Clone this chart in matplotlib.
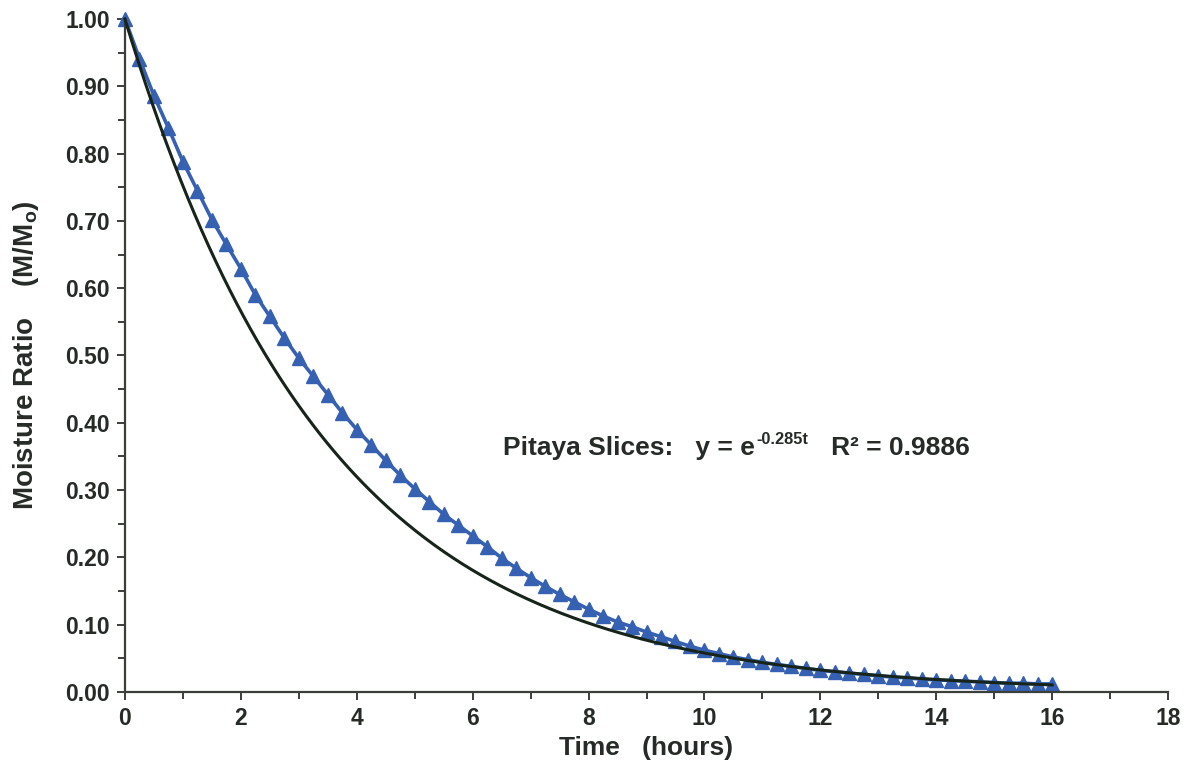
import numpy as np
import matplotlib
matplotlib.use("Agg")
import matplotlib.pyplot as plt
from matplotlib.ticker import MultipleLocator, FormatStrFormatter
from matplotlib.transforms import offset_copy

plt.rcParams['font.family'] = ['Liberation Sans', 'DejaVu Sans']
plt.rcParams['font.weight'] = 'bold'
plt.rcParams['mathtext.fontset'] = 'custom'
plt.rcParams['mathtext.rm'] = 'Liberation Sans:bold'
plt.rcParams['mathtext.it'] = 'Liberation Sans:bold'
plt.rcParams['mathtext.bf'] = 'Liberation Sans:bold'

# Measured moisture ratio of pitaya slices, sampled every 0.25 h
time_h = [i * 0.25 for i in range(65)]
moisture_ratio = [
    1.000, 0.941, 0.886, 0.838, 0.788, 0.745, 0.702, 0.665,
    0.629, 0.590, 0.558, 0.526, 0.496, 0.469, 0.442, 0.415,
    0.390, 0.367, 0.344, 0.322, 0.302, 0.283, 0.264, 0.248,
    0.232, 0.216, 0.199, 0.184, 0.170, 0.157, 0.145, 0.134,
    0.123, 0.113, 0.104, 0.097, 0.089, 0.082, 0.075, 0.068,
    0.062, 0.057, 0.052, 0.048, 0.044, 0.041, 0.038, 0.035,
    0.032, 0.030, 0.028, 0.026, 0.024, 0.022, 0.021, 0.019,
    0.018, 0.017, 0.016, 0.015, 0.014, 0.013, 0.013, 0.012,
    0.012,
]

# Fitted model y = exp(-k t)
k_fit = 0.285
r_squared = 0.9886
t_fit = np.linspace(0, 16, 400)
y_fit = np.exp(-k_fit * t_fit)

text_color = '#262b27'
blue = '#3661b2'
fit_color = '#16241a'

fig = plt.figure(figsize=(11.88, 7.63), dpi=100)
ax = fig.add_axes([0.1052, 0.0931, 0.8780, 0.8820])

ax.plot(time_h, moisture_ratio, color=blue, lw=2.6, marker='^',
        markersize=9.5, markerfacecolor=blue, markeredgecolor=blue,
        zorder=2, clip_on=False)
ax.plot(t_fit, y_fit, color=fit_color, lw=2.2, zorder=3, clip_on=False)

ax.set_xlim(0, 18)
ax.set_ylim(0, 1.0)
ax.xaxis.set_major_locator(MultipleLocator(2))
ax.xaxis.set_minor_locator(MultipleLocator(1))
ax.yaxis.set_major_locator(MultipleLocator(0.1))
ax.yaxis.set_minor_locator(MultipleLocator(0.05))
ax.yaxis.set_major_formatter(FormatStrFormatter('%.2f'))

for side in ('top', 'right'):
    ax.spines[side].set_visible(False)
for side in ('left', 'bottom'):
    ax.spines[side].set_color('#3a3f3a')
    ax.spines[side].set_linewidth(1.6)

ax.tick_params(which='major', direction='out', length=6, width=1.4,
               color='#3a3f3a', labelsize=16.5, labelcolor=text_color, pad=5)
ax.tick_params(which='minor', direction='out', length=5, width=1.4,
               color='#3a3f3a')
for lab in ax.get_xticklabels() + ax.get_yticklabels():
    lab.set_fontweight('bold')

ax.set_xlabel('Time   (hours)', fontsize=19, fontweight='bold',
              color=text_color, labelpad=4)
ax.set_ylabel('Moisture Ratio    (M/M$_{\\mathregular{o}}$)', fontsize=20,
              fontweight='bold', color=text_color, labelpad=17)

# Fit equation, built from pieces so the exponent sits as a superscript
eq_size = 19
x0, y0 = 6.52, 0.352
fig.canvas.draw()
renderer = fig.canvas.get_renderer()

t1 = ax.text(x0, y0, 'Pitaya Slices:   y = e', fontsize=eq_size,
             fontweight='bold', color=text_color, ha='left', va='baseline')
w1 = t1.get_window_extent(renderer).width * 72 / fig.dpi
sup_tr = offset_copy(ax.transData, fig=fig, x=w1 + 1, y=eq_size * 0.42,
                     units='points')
t2 = ax.text(x0, y0, '-%.3ft' % k_fit, fontsize=eq_size * 0.62,
             fontweight='bold', color=text_color, ha='left', va='baseline',
             transform=sup_tr)
w2 = t2.get_window_extent(renderer).width * 72 / fig.dpi
rest_tr = offset_copy(ax.transData, fig=fig, x=w1 + w2 + 2, y=0,
                      units='points')
ax.text(x0, y0, '   R\u00b2 = %.4f' % r_squared, fontsize=eq_size,
        fontweight='bold', color=text_color, ha='left', va='baseline',
        transform=rest_tr)

fig.savefig('out.png', dpi=100)
